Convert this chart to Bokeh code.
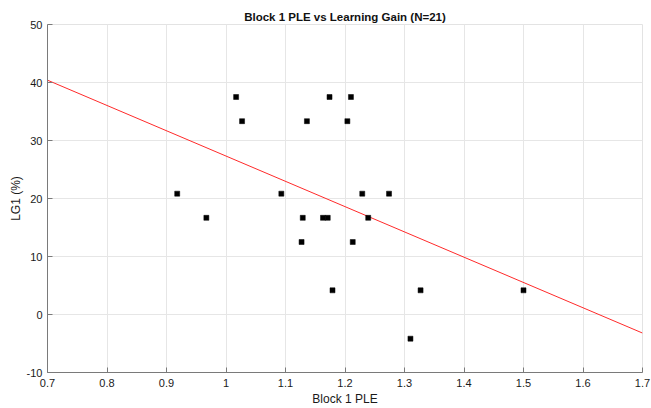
from bokeh.plotting import figure
from bokeh.models import FixedTicker, Range1d
from bokeh.embed import file_html
from bokeh.resources import INLINE

# data
ple = [0.918, 0.967, 1.017, 1.027, 1.093, 1.127, 1.129, 1.136, 1.163, 1.171,
       1.174, 1.179, 1.204, 1.210, 1.213, 1.229, 1.239, 1.274, 1.310, 1.327, 1.500]
lg1 = [20.83, 16.67, 37.5, 33.33, 20.83, 12.5, 16.67, 33.33, 16.67, 16.67,
       37.5, 4.17, 33.33, 37.5, 12.5, 20.83, 16.67, 20.83, -4.17, 4.17, 4.17]
fit_x = [0.7, 1.7]
fit_y = [40.4, -3.2]
x_ticks = [0.7, 0.8, 0.9, 1.0, 1.1, 1.2, 1.3, 1.4, 1.5, 1.6, 1.7]
x_tick_labels = ["0.7", "0.8", "0.9", "1", "1.1", "1.2", "1.3", "1.4", "1.5", "1.6", "1.7"]
y_ticks = [-10, 0, 10, 20, 30, 40, 50]
y_tick_labels = ["-10", "0", "10", "20", "30", "40", "50"]

FONT = "Liberation Sans"

p = figure(width=651, height=408, output_backend="svg", toolbar_location=None,
           x_range=Range1d(0.7, 1.7), y_range=Range1d(-10, 50),
           min_border_left=47, min_border_right=9, min_border_top=24, min_border_bottom=34,
           title="Block 1 PLE vs Learning Gain (N=21)")

p.title.text_font = FONT
p.title.text_font_size = "11.5px"
p.title.text_font_style = "bold"
p.title.text_color = "#111111"
p.title.align = "center"
p.title.standoff = 4

p.background_fill_color = "white"
p.border_fill_color = "white"
p.outline_line_color = "#e3e3e3"
p.outline_line_width = 1

p.line(fit_x, fit_y, line_color="#ff2a2a", line_width=1)
p.scatter(ple, lg1, marker="square", size=5, fill_color="black",
          line_color="black", line_width=0.5)

p.xaxis.ticker = FixedTicker(ticks=x_ticks)
p.yaxis.ticker = FixedTicker(ticks=y_ticks)
p.xaxis.major_label_overrides = {t: s for t, s in zip(x_ticks, x_tick_labels)}
p.yaxis.major_label_overrides = {t: s for t, s in zip(y_ticks, y_tick_labels)}

for ax in (p.xaxis, p.yaxis):
    ax.axis_line_color = "#7a7a7a"
    ax.major_tick_line_color = "#7a7a7a"
    ax.major_tick_in = 5
    ax.major_tick_out = 0
    ax.minor_tick_line_color = None
    ax.major_label_text_font = FONT
    ax.major_label_text_font_size = "11px"
    ax.major_label_text_color = "#1a1a1a"
    ax.axis_label_text_font = FONT
    ax.axis_label_text_font_size = "12px"
    ax.axis_label_text_font_style = "normal"
    ax.axis_label_text_color = "#1a1a1a"

p.xaxis.axis_label = "Block 1 PLE"
p.yaxis.axis_label = "LG1 (%)"
p.xaxis.major_label_standoff = 6
p.yaxis.major_label_standoff = 5
p.xaxis.axis_label_standoff = 2
p.yaxis.axis_label_standoff = 1

p.xgrid.grid_line_color = "#e6e6e6"
p.ygrid.grid_line_color = "#e6e6e6"

open("out.html", "w").write(file_html(p, INLINE))
